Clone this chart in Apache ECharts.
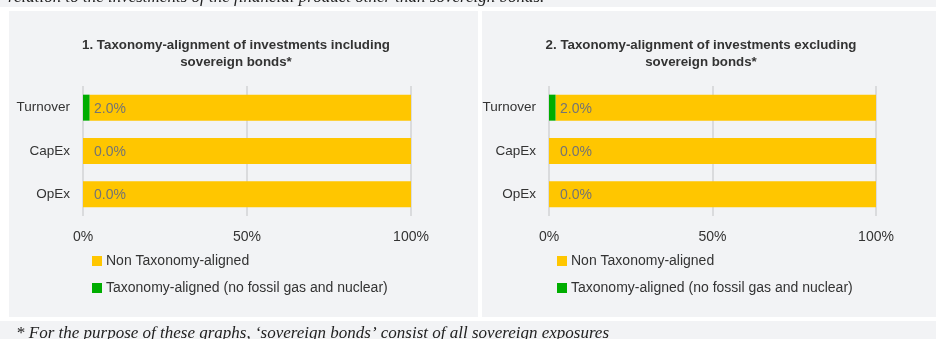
<!DOCTYPE html>
<html>
<head>
<meta charset="utf-8">
<style>
  html, body { margin: 0; padding: 0; background: #ffffff; }
  #chart { width: 936px; height: 339px; }
</style>
<script src="https://cdn.jsdelivr.net/npm/echarts@6/dist/echarts.min.js"></script>
</head>
<body>
<div id="chart"></div>
<script>
// Share of investments per KPI (percent)
const categories = ['Turnover', 'CapEx', 'OpEx'];
const alignedInclSovereign = [2.0, 0.0, 0.0];
const nonAlignedInclSovereign = [98.0, 100.0, 100.0];
const alignedExclSovereign = [2.0, 0.0, 0.0];
const nonAlignedExclSovereign = [98.0, 100.0, 100.0];

const seriesNames = ['Non Taxonomy-aligned', 'Taxonomy-aligned (no fossil gas and nuclear)'];
const panelTitles = [
  '1. Taxonomy-alignment of investments including\nsovereign bonds*',
  '2. Taxonomy-alignment of investments excluding\nsovereign bonds*'
];
const introText = 'relation to the investments of the financial product other than sovereign bonds.';
const footnoteText = '* For the purpose of these graphs, \u2018sovereign bonds\u2019 consist of all sovereign exposures';

const COLOR_NON = '#ffc600';
const COLOR_ALIGNED = '#00ad00';
const PANEL_BG = '#f2f3f5';
const SANS = '"Liberation Sans", Arial, Helvetica, sans-serif';
const SERIF = '"Liberation Serif", "Times New Roman", serif';

const chart = echarts.init(document.getElementById('chart'), null, { renderer: 'canvas' });

const grids = [
  { left: 83, top: 86, width: 328, height: 130 },
  { left: 549, top: 86, width: 327, height: 130 }
];

function xAxisFor(i) {
  return {
    gridIndex: i, type: 'value', min: 0, max: 100, interval: 50,
    axisLine: { show: false }, axisTick: { show: false },
    axisLabel: { formatter: '{value}%', fontSize: 14, color: '#333', fontFamily: SANS, margin: 14 },
    splitLine: { show: true, lineStyle: { color: '#dadbdd', width: 2 } }
  };
}
function yAxisFor(i) {
  return {
    gridIndex: i, type: 'category', inverse: true, data: categories,
    axisLine: { show: false }, axisTick: { show: false },
    axisLabel: { fontSize: 13.5, color: '#333', fontFamily: SANS, margin: 13, padding: [5, 0, 0, 0] }
  };
}

function panelSeries(i, aligned, nonAligned) {
  return [
    {
      name: seriesNames[1], type: 'bar', stack: 'kpi' + i,
      xAxisIndex: i, yAxisIndex: i, barWidth: 26, z: 4,
      itemStyle: { color: COLOR_ALIGNED },
      label: {
        show: true, position: [11, '50%'], align: 'left', verticalAlign: 'middle', offset: [0, 1],
        fontSize: 14, color: '#747474', fontFamily: SANS,
        formatter: p => p.value.toFixed(1) + '%'
      },
      data: aligned
    },
    {
      name: seriesNames[0], type: 'bar', stack: 'kpi' + i,
      xAxisIndex: i, yAxisIndex: i, barWidth: 26, z: 2,
      itemStyle: { color: COLOR_NON },
      data: nonAligned
    }
  ];
}

function legendFor(left) {
  return {
    left: left, top: 253, orient: 'vertical', itemGap: 11, padding: 0,
    icon: 'rect', itemWidth: 10, itemHeight: 10,
    data: seriesNames, selectedMode: false,
    textStyle: { fontSize: 14, color: '#333', fontFamily: SANS, lineHeight: 16, padding: [0, 0, 0, -1] }
  };
}

const option = {
  animation: false,
  grid: grids,
  xAxis: [xAxisFor(0), xAxisFor(1)],
  yAxis: [yAxisFor(0), yAxisFor(1)],
  legend: [legendFor(92), legendFor(557)],
  series: [
    ...panelSeries(0, alignedInclSovereign, nonAlignedInclSovereign),
    ...panelSeries(1, alignedExclSovereign, nonAlignedExclSovereign)
  ],
  graphic: [
    // page strips and panel backgrounds
    { type: 'rect', z: -10, shape: { x: 0, y: 0, width: 936, height: 7 }, style: { fill: PANEL_BG } },
    { type: 'rect', z: -10, shape: { x: 9, y: 11, width: 469, height: 306 }, style: { fill: PANEL_BG } },
    { type: 'rect', z: -10, shape: { x: 482, y: 11, width: 454, height: 306 }, style: { fill: PANEL_BG } },
    { type: 'rect', z: -10, shape: { x: 0, y: 321, width: 936, height: 18 }, style: { fill: PANEL_BG } },
    {
      type: 'text', z: 5, x: 8, y: -2,
      style: { text: introText, font: 'italic 17px ' + SERIF, fill: '#222', verticalAlign: 'middle' }
    },
    {
      type: 'text', z: 5, x: 16, y: 334,
      style: { text: footnoteText, font: 'italic 17px ' + SERIF, fill: '#222', verticalAlign: 'middle' }
    },
    {
      type: 'text', z: 5, x: 236, y: 37,
      style: { text: panelTitles[0], font: 'bold 13.3px ' + SANS, fill: '#333', align: 'center', verticalAlign: 'top', lineHeight: 17 }
    },
    {
      type: 'text', z: 5, x: 701, y: 37,
      style: { text: panelTitles[1], font: 'bold 13.3px ' + SANS, fill: '#333', align: 'center', verticalAlign: 'top', lineHeight: 17 }
    }
  ]
};

chart.setOption(option);
</script>
</body>
</html>
